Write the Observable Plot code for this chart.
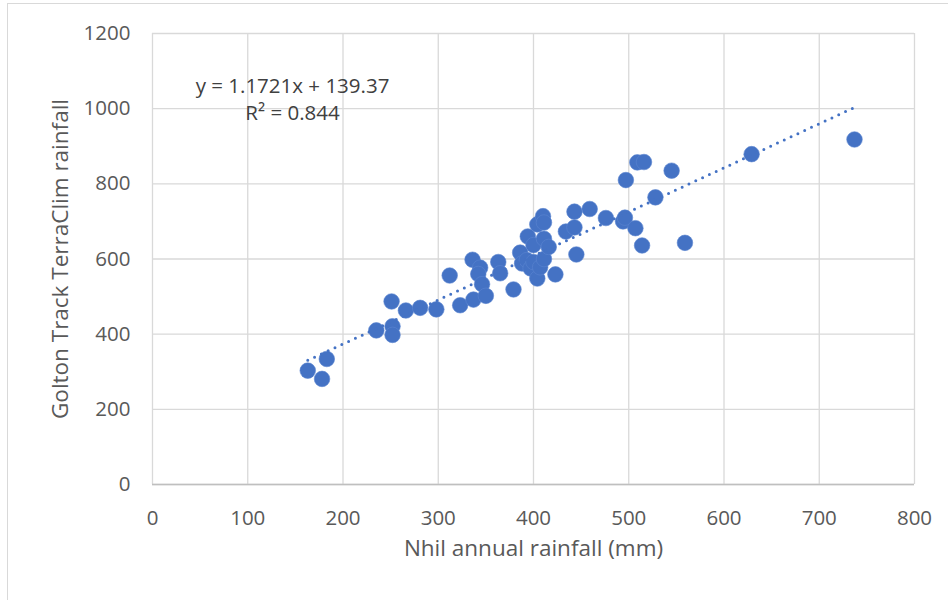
<!DOCTYPE html>
<html>
<head>
<meta charset="utf-8">
<script src="https://cdn.jsdelivr.net/npm/d3@7"></script>
<script src="https://cdn.jsdelivr.net/npm/@observablehq/plot@0.6"></script>
<style>
  html, body { margin: 0; padding: 0; background: #fff; }
  #wrap { position: relative; width: 948px; height: 600px; overflow: hidden; }
  #border { position: absolute; left: 7px; top: 3px; width: 948px; height: 620px; border: 1px solid #d9d9d9; box-sizing: border-box; pointer-events: none; }
</style>
</head>
<body>
<div id="wrap"><div id="border"></div></div>
<script>
// Nhil annual rainfall (mm)
const nhil = [163, 178, 183, 235, 252, 252, 251, 266, 281, 298, 312, 323, 336, 337, 344, 342, 346, 350, 363, 365,
  379, 386, 388, 393, 394, 397, 400, 400, 404, 404, 407, 410, 411, 411, 411, 416, 423, 434, 443, 443,
  445, 459, 476, 494, 496, 497, 507, 509, 514, 516, 528, 545, 559, 629, 737];
// Golton Track TerraClim rainfall
const golton = [303, 281, 334, 410, 421, 398, 487, 463, 470, 466, 556, 477, 598, 492, 577, 560, 533, 502, 592, 562,
  519, 617, 588, 597, 660, 575, 592, 637, 548, 692, 578, 714, 697, 654, 600, 632, 559, 673, 684, 726,
  612, 733, 709, 700, 710, 810, 682, 857, 636, 858, 764, 835, 643, 879, 918];
const xTicks = [0, 100, 200, 300, 400, 500, 600, 700, 800];
const yTicks = [0, 200, 400, 600, 800, 1000, 1200];
// Linear trendline as labelled in the chart
const slope = 1.1721;
const intercept = 139.37;
const trendX = [d3.min(nhil), d3.max(nhil)];
const equationText = ["y = 1.1721x + 139.37\nR² = 0.844"];
const xTitle = ["Nhil annual rainfall (mm)"];
const yTitle = ["Golton Track TerraClim rainfall"];

const points = nhil.map((x, i) => ({x, y: golton[i]}));
const trend = trendX.map(x => ({x, y: slope * x + intercept}));

const font = "'Open Sans', Lato, sans-serif";
const grey = "#595959";

const chart = Plot.plot({
  width: 948,
  height: 600,
  marginTop: 33,
  marginRight: 34,
  marginBottom: 116,
  marginLeft: 152,
  style: {fontFamily: font, fontSize: "20px", color: grey, background: "transparent"},
  x: {domain: [0, 800], ticks: xTicks},
  y: {domain: [0, 1200], ticks: yTicks},
  marks: [
    Plot.gridX(xTicks, {stroke: "#d9d9d9", strokeOpacity: 1, strokeWidth: 1.3}),
    Plot.gridY(yTicks, {stroke: "#d9d9d9", strokeOpacity: 1, strokeWidth: 1.3}),
    Plot.ruleY([0], {stroke: "#bfbfbf", strokeWidth: 1.3}),
    Plot.axisX(xTicks, {tickSize: 0, tickPadding: 26, label: null, fill: grey, fontSize: 20.5, tickFormat: d => String(d)}),
    Plot.axisY(yTicks, {tickSize: 0, tickPadding: 22, label: null, fill: grey, fontSize: 20.5, tickFormat: d => String(d)}),
    Plot.dot(points, {x: "x", y: "y", r: 7.8, fill: "#4472C4", stroke: "#5b85d0", strokeWidth: 0.6}),
    Plot.line(trend, {x: "x", y: "y", stroke: "#4472C4", strokeWidth: 3, strokeDasharray: "0,7.5", strokeLinecap: "round"}),
    Plot.text(equationText, {frameAnchor: "top-left", dx: 140, dy: 40, textAnchor: "middle", lineAnchor: "top", lineHeight: 1.33, fill: "#404040", fontSize: 20.5}),
    Plot.text(xTitle, {frameAnchor: "bottom", dy: 71, fill: grey, fontSize: 22.5}),
    Plot.text(yTitle, {frameAnchor: "left", dx: -92, rotate: -90, textAnchor: "middle", fill: grey, fontSize: 22.5})
  ]
});
document.getElementById("wrap").insertBefore(chart, document.getElementById("border"));
</script>
</body>
</html>
